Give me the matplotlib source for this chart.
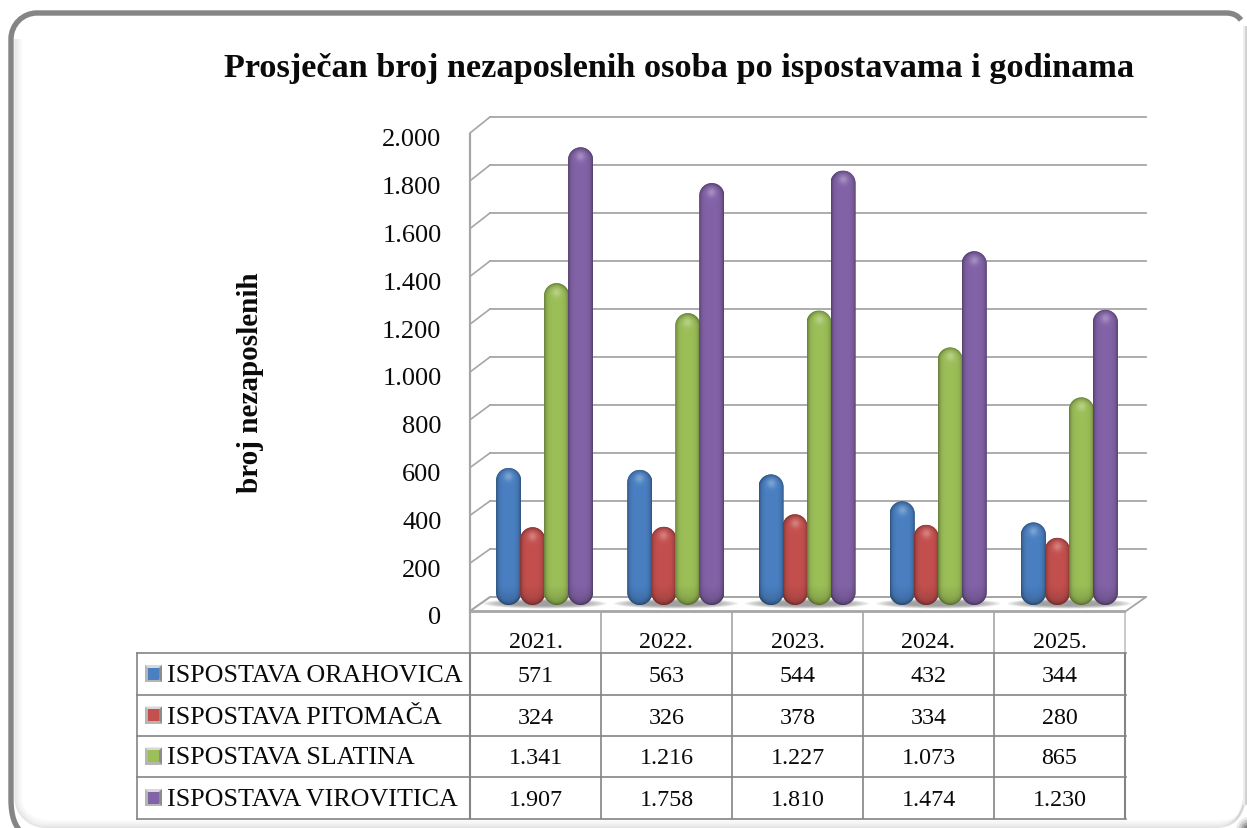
import numpy as np
import matplotlib
matplotlib.use("Agg")
import matplotlib.pyplot as plt
from matplotlib.path import Path
from matplotlib.patches import PathPatch, Rectangle, Ellipse, Polygon
from matplotlib.colors import to_rgb

plt.rcParams['font.family'] = ['Liberation Serif', 'DejaVu Serif']

years = ['2021.', '2022.', '2023.', '2024.', '2025.']
series_names = ['ISPOSTAVA ORAHOVICA', 'ISPOSTAVA PITOMAČA', 'ISPOSTAVA SLATINA', 'ISPOSTAVA VIROVITICA']
orahovica = [571, 563, 544, 432, 344]
pitomaca = [324, 326, 378, 334, 280]
slatina = [1341, 1216, 1227, 1073, 865]
virovitica = [1907, 1758, 1810, 1474, 1230]
series = [orahovica, pitomaca, slatina, virovitica]
colors = ['#4A80C2', '#C4504E', '#9CBF58', '#8363A8']
y_ticks = [0, 200, 400, 600, 800, 1000, 1200, 1400, 1600, 1800, 2000]


def fmt(v):
    return f'{v:,}'.replace(',', '.')


W, H = 1247, 829
fig = plt.figure(figsize=(W / 100, H / 100), dpi=100, facecolor='white')


def axes_px(x0, y_top, x1, y_bot, z):
    a = fig.add_axes([x0 / W, 1 - y_bot / H, (x1 - x0) / W, (y_bot - y_top) / H], zorder=z)
    a.patch.set_visible(False)
    return a


# ---------- decoration layer in pixel coordinates ----------
ov = fig.add_axes([0, 0, 1, 1], zorder=0)
ov.set_xlim(0, W)
ov.set_ylim(H, 0)
ov.axis('off')

# soft inner shadow along left and bottom
for i, a in enumerate([0.20, 0.13, 0.08, 0.04]):
    x = 15.5 + 2 * i
    yb = 828 - 2 * i
    p = Path([(x, 40), (x, 800), (x, 815), (x + 14, yb), (x + 30, yb), (1215, yb), (1232, yb), (1240, 822), (1246 - i, 800)],
             [Path.MOVETO, Path.LINETO, Path.CURVE4, Path.CURVE4, Path.CURVE4, Path.LINETO,
              Path.CURVE4, Path.CURVE4, Path.CURVE4])
    ov.add_patch(PathPatch(p, fc='none', ec='#808080', lw=1.5, alpha=a))
# faint right edge
ov.plot([1245.5, 1245.5], [28, 805], color='#d0d0d0', lw=1.4)
ov.plot([1243.5, 1243.5], [28, 805], color='#eeeeee', lw=1.4)
# dark left + top of the frame, curving away at the bottom-left
k = 0.5523 * 26
frame = Path([(24, 836), (15, 828), (11, 818), (11, 800), (11, 40), (11, 40 - k), (37 - k, 14), (37, 14), (1226, 14),
              (1234, 14), (1238, 17), (1241, 21)],
             [Path.MOVETO, Path.CURVE4, Path.CURVE4, Path.CURVE4, Path.LINETO, Path.CURVE4, Path.CURVE4, Path.CURVE4,
              Path.LINETO, Path.CURVE4, Path.CURVE4, Path.CURVE4])
ov.add_patch(PathPatch(frame, fc='none', ec='#858585', lw=3.9, capstyle='butt'))
# dark bottom-right corner
for i, a in enumerate([0.12, 0.2, 0.3, 0.45]):
    ov.add_patch(Ellipse((1249, 831), 26 - 5 * i, 26 - 5 * i, fc='#555555', ec='none', alpha=a))

# walls, floor, table lines
GRID = '#a6a6a6'
BODY = '#848484'
ov.plot([469.5, 469.5], [134, 654], color=GRID, lw=1.6, solid_capstyle='butt')
ov.add_patch(Polygon([(470, 612), (490, 598), (1146, 598), (1126, 612)], closed=True, fc='white', ec=GRID, lw=1.3))

front_ys = [612 - 47.8 * i for i in range(len(y_ticks))]
back_ys = [598 - 48 * i for i in range(len(y_ticks))]
for fy, by in zip(front_ys, back_ys):
    ov.plot([470, 490], [fy, by], color=GRID, lw=1.2)

col_x = [470, 601, 732, 863, 994, 1125]
row_y = [654, 696, 737, 778, 820]
for x in col_x[1:]:
    ov.plot([x, x], [612, 654], color=GRID if x != 1125 else '#c0c0c0', lw=1.2, solid_capstyle='butt')
ov.plot([470, 1125], [612.5, 612.5], color=GRID, lw=1.3)
for y in row_y:
    ov.plot([137, 1126], [y, y], color=BODY, lw=1.2, solid_capstyle='projecting')
ov.plot([137, 137], [654, 820], color=BODY, lw=1.2)
for x in col_x:
    ov.plot([x, x], [654, 820], color=BODY, lw=1.5 if x in (470, 1125) else 1.2, solid_capstyle='butt')

# table text
row_c = [674.5, 716, 757, 798.5]
col_c = [(col_x[i] + col_x[i + 1]) / 2 for i in range(5)]
TXT = '#0a0a0a'
for c, y in zip(col_c, years):
    ov.text(c, 642.5, y, ha='center', va='center', fontsize=17.3, color=TXT)
for r, name, vals, col in zip(row_c, series_names, series, colors):
    ov.text(167, r + 1.5, name, ha='left', va='center', fontsize=18.7, color=TXT)
    for c, v in zip(col_c, vals):
        ov.text(c, r + 2, fmt(v), ha='center', va='center', fontsize=17.3, color=TXT)
    # bevelled legend key
    x0, y0, s = 145, r - 8.5, 17
    ov.add_patch(Rectangle((x0, y0), s, s, fc='#b5b5b5', ec='none'))
    ov.add_patch(Polygon([(x0, y0), (x0 + s, y0), (x0 + s - 4, y0 + 4), (x0 + 4, y0 + 4)], fc='#d8d8d8', ec='none'))
    ov.add_patch(Polygon([(x0 + s, y0), (x0 + s, y0 + s), (x0 + s - 4, y0 + s - 4), (x0 + s - 4, y0 + 4)], fc='#8c8c8c', ec='none'))
    ov.add_patch(Rectangle((x0 + 3, y0 + 2.5), s - 6, s - 5, fc=col, ec='none'))

# ---------- back wall gridlines ----------
wall = axes_px(490, 118, 1146, 598, 1)
wall.set_ylim(0, 2000)
wall.set_xlim(0, 1)
wall.set_yticks(y_ticks)
wall.set_xticks([])
wall.tick_params(length=0, labelleft=False)
wall.grid(axis='y', color=GRID, lw=1.3)
for gl in wall.get_ygridlines():
    gl.set_clip_on(False)
for s_ in wall.spines.values():
    s_.set_visible(False)

# ---------- front value axis: tick labels and axis title ----------
front = axes_px(470, 138, 1126, 616, 2)
front.set_ylim(0, 2000)
front.set_xticks([])
front.set_yticks(y_ticks)
front.set_yticklabels([fmt(v) for v in y_ticks], fontsize=19, color=TXT)
front.tick_params(axis='y', length=0, pad=28.5 / 1.389)
for s_ in front.spines.values():
    s_.set_visible(False)
front.set_ylabel('broj nezaposlenih', fontsize=21, fontweight='bold', color=TXT, va='center')
front.yaxis.set_label_coords((250 - 470) / 656, (616 - 383) / 478)

# ---------- cylinders ----------
ax = axes_px(470, 126, 1126, 606, 3)
ax.axis('off')
px_per_cat = 131.2
px_per_val = 0.24
bar_px = 25.0
step_px = 24.0
half = bar_px / 2 / px_per_cat
cap = bar_px / 2 / px_per_val
group_shift = 9 / px_per_cat


def capsule(xc, v):
    t = np.linspace(0, np.pi, 24)
    xs = np.r_[xc - half * np.cos(t), xc + half * np.cos(t)]
    top = v - cap + cap * np.sin(t)
    bot = cap - cap * np.sin(t)
    ys = np.r_[top, bot]
    return Path(np.c_[xs, ys], closed=False)


for i in range(len(years)):
    cx = i + group_shift
    for sc in np.linspace(1, 0.45, 9):
        ax.add_patch(Ellipse((cx, 6), 124 / px_per_cat * sc ** 0.7, (10 / px_per_val) * sc, fc='#6a6a6a', ec='none',
                             alpha=0.10, clip_on=False, zorder=1))

for j, (vals, col) in enumerate(zip(series, colors)):
    base = np.array(to_rgb(col))
    xs = [i + group_shift + (j - 1.5) * step_px / px_per_cat for i in range(len(vals))]
    bars = ax.bar(xs, vals, width=bar_px / px_per_cat, color=col, zorder=2 + j)
    for xc, v, b in zip(xs, vals, bars):
        clip = capsule(xc, v)
        b.set_clip_path(clip, ax.transData)
        # cylinder shading in pixel space
        h_px = int(round(v * px_per_val))
        R = bar_px / 2
        nx, ny = 60, max(h_px * 2, 60)
        gx = np.linspace(-R, R, nx)
        gy = np.linspace(h_px, 0, ny)
        X, Y = np.meshgrid(gx, gy)
        Yc = np.clip(Y, R, h_px - R)
        d = np.clip(np.hypot(X, Y - Yc) / R, 0, 1)
        bright = 1 - 0.30 * d ** 6 - 0.06 * d ** 2
        bottom_dark = 1 - 0.16 * np.clip((20 - Y) / 20, 0, 1)
        img = base[None, None, :] * (bright * bottom_dark)[..., None]
        spot = np.exp(-(X ** 2 + (Y - (h_px - 9)) ** 2) / (2 * 3.2 ** 2))[..., None] * 0.28
        img = np.clip(img * (1 - spot) + spot, 0, 1)
        im = ax.imshow(img, extent=[xc - half, xc + half, 0, v], aspect='auto', zorder=2 + j,
                       interpolation='bilinear')
        im.set_clip_path(clip, ax.transData)

ax.set_xlim(-0.5, 4.5)
ax.set_ylim(0, 2000)

# ---------- title ----------
fig.text(679.5 / W, 1 - 68 / H, 'Prosječan broj nezaposlenih osoba po ispostavama i godinama',
         ha='center', va='center', fontsize=24.65, fontweight='bold', color=TXT)

fig.savefig('out.png', dpi=100, facecolor='white')
